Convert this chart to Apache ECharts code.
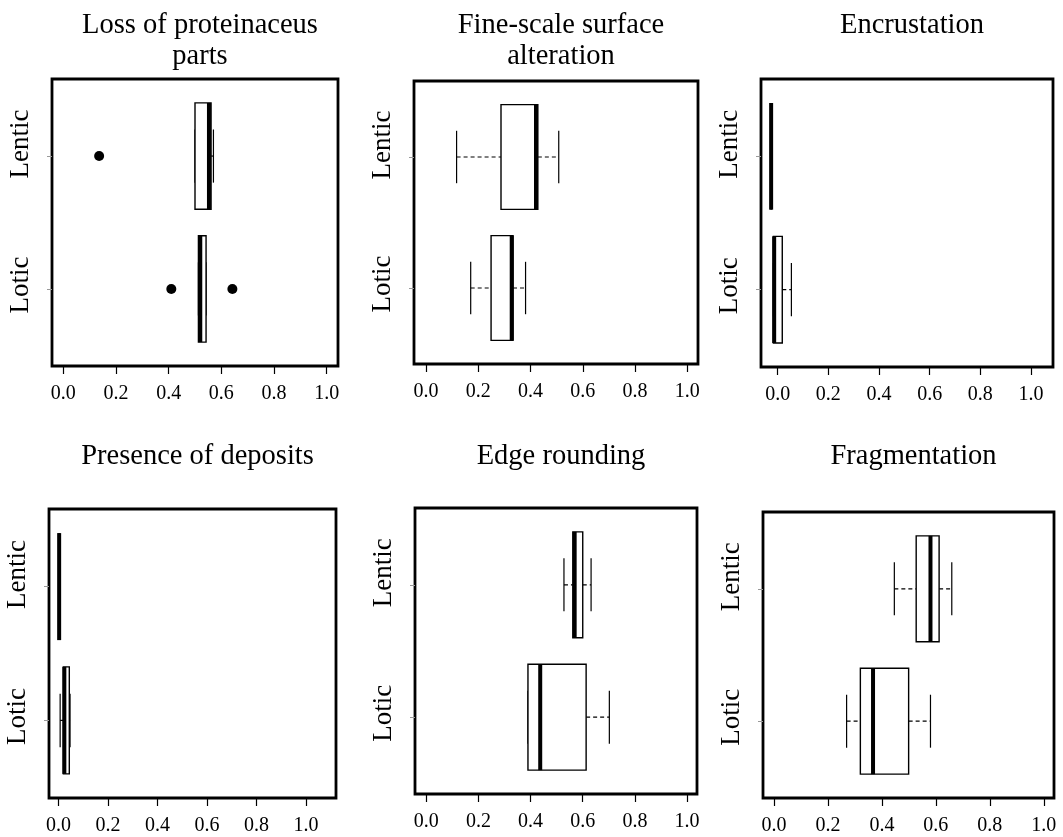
<!DOCTYPE html>
<html>
<head>
<meta charset="utf-8">
<script src="https://cdn.jsdelivr.net/npm/echarts@6/dist/echarts.min.js"></script>
<style>
  html, body { margin: 0; background: #fff }
  #chart { width: 1063px; height: 837px }
</style>
</head>
<body>
<div id="chart"></div>
<script>
var groups = ['Lotic', 'Lentic']
var titles = [
  'Loss of proteinaceus\nparts',
  'Fine-scale surface\nalteration',
  'Encrustation',
  'Presence of deposits',
  'Edge rounding',
  'Fragmentation'
]
var xTicks = [0, 0.2, 0.4, 0.6, 0.8, 1.0]

// [lower whisker, Q1, median, Q3, upper whisker]
var lenticBoxes = [
  [0.500, 0.500, 0.553, 0.561, 0.570],
  [0.117, 0.287, 0.421, 0.428, 0.508],
  [-0.026, -0.026, -0.026, -0.026, -0.026],
  [0.003, 0.003, 0.003, 0.003, 0.003],
  [0.528, 0.562, 0.569, 0.600, 0.632],
  [0.446, 0.527, 0.580, 0.612, 0.659]
]
var loticBoxes = [
  [0.513, 0.513, 0.520, 0.542, 0.542],
  [0.171, 0.249, 0.328, 0.333, 0.381],
  [-0.017, -0.017, -0.014, 0.018, 0.054],
  [0.007, 0.020, 0.024, 0.044, 0.047],
  [0.390, 0.390, 0.437, 0.613, 0.702],
  [0.269, 0.320, 0.367, 0.499, 0.580]
]
var lenticOutliers = [[0.136], [], [], [], [], []]
var loticOutliers = [[0.410, 0.642], [], [], [], [], []]

// panel frames and x ranges (R pads each axis a little)
var layout = [
  { left: 52, top: 79, width: 286, height: 287, min: -0.043, max: 1.043 },
  { left: 414, top: 81, width: 284, height: 283, min: -0.046, max: 1.041 },
  { left: 761, top: 79, width: 292, height: 288, min: -0.066, max: 1.087 },
  { left: 49, top: 509, width: 287, height: 289, min: -0.038, max: 1.121 },
  { left: 415, top: 508, width: 282, height: 286, min: -0.043, max: 1.038 },
  { left: 763, top: 512, width: 291, height: 286, min: -0.041, max: 1.038 }
]

var serif = 'Liberation Serif'

function renderBox (params, api) {
  var y = api.value(0)
  var px = [1, 2, 3, 4, 5].map(function (k) {
    return api.coord([api.value(k), y])[0]
  })
  var yMid = api.coord([0, y])[1]
  var yTop = api.coord([0, y + 0.4])[1]
  var yBot = api.coord([0, y - 0.4])[1]
  var capTop = api.coord([0, y + 0.2])[1]
  var capBot = api.coord([0, y - 0.2])[1]
  var thin = { stroke: '#000', lineWidth: 1.2 }
  var dashed = { stroke: '#000', lineWidth: 1.2, lineDash: [4, 3] }
  return {
    type: 'group',
    children: [
      { type: 'line', shape: { x1: px[0], y1: yMid, x2: px[1], y2: yMid }, style: dashed },
      { type: 'line', shape: { x1: px[3], y1: yMid, x2: px[4], y2: yMid }, style: dashed },
      { type: 'line', shape: { x1: px[0], y1: capTop, x2: px[0], y2: capBot }, style: thin },
      { type: 'line', shape: { x1: px[4], y1: capTop, x2: px[4], y2: capBot }, style: thin },
      {
        type: 'rect',
        shape: { x: px[1], y: yTop, width: px[3] - px[1], height: yBot - yTop },
        style: { fill: '#fff', stroke: '#000', lineWidth: 1.4 }
      },
      { type: 'line', shape: { x1: px[2], y1: yTop, x2: px[2], y2: yBot }, style: { stroke: '#000', lineWidth: 4 } }
    ]
  }
}

var option = {
  animation: false,
  backgroundColor: '#fff',
  title: [],
  grid: [],
  xAxis: [],
  yAxis: [],
  series: []
}

layout.forEach(function (p, i) {
  option.title.push({
    text: titles[i],
    left: p.left + p.width / 2,
    top: i < 3 ? 5 : 436,
    textAlign: 'center',
    textStyle: { fontFamily: serif, fontSize: 28.5, fontWeight: 'normal', color: '#000', lineHeight: 31 }
  })
  option.grid.push({
    left: p.left, top: p.top, width: p.width, height: p.height,
    show: true, borderColor: '#000', borderWidth: 2.8, backgroundColor: 'transparent'
  })
  option.xAxis.push({
    type: 'value', gridIndex: i, min: p.min, max: p.max,
    axisLine: { show: false, onZero: false },
    splitLine: { show: false },
    axisTick: { show: true, inside: false, customValues: xTicks, length: 8, lineStyle: { color: '#000', width: 1.2 } },
    axisLabel: {
      customValues: xTicks, margin: 18,
      fontFamily: serif, fontSize: 20, color: '#000',
      formatter: function (v) { return v.toFixed(1) }
    }
  })
  option.yAxis.push({
    type: 'value', gridIndex: i, min: 0.42, max: 2.58,
    axisLine: { show: false, onZero: false },
    splitLine: { show: false },
    axisTick: { show: true, inside: false, customValues: [1, 2], length: 5, lineStyle: { color: '#999', width: 1 } },
    axisLabel: {
      customValues: [1, 2], rotate: 90, margin: 18,
      fontFamily: serif, fontSize: 27, color: '#000',
      formatter: function (v) {
        var k = Math.round(v)
        return '{' + (k === 2 ? 'hi' : 'lo') + '|' + groups[k - 1] + '}'
      },
      rich: {
        hi: { fontFamily: serif, fontSize: 27, color: '#000', padding: [0, 0, 0, 24] },
        lo: { fontFamily: serif, fontSize: 27, color: '#000', padding: [0, 0, 0, 8] }
      }
    }
  })
  option.series.push({
    type: 'custom',
    xAxisIndex: i, yAxisIndex: i,
    renderItem: renderBox,
    encode: { x: [1, 2, 3, 4, 5], y: 0 },
    data: [[2].concat(lenticBoxes[i]), [1].concat(loticBoxes[i])]
  })
  var pts = lenticOutliers[i].map(function (v) { return [v, 2] })
    .concat(loticOutliers[i].map(function (v) { return [v, 1] }))
  option.series.push({
    type: 'scatter',
    xAxisIndex: i, yAxisIndex: i,
    symbol: 'circle', symbolSize: 10,
    itemStyle: { color: '#000', opacity: 1 },
    data: pts
  })
})

var chart = echarts.init(document.getElementById('chart'))
chart.setOption(option)
</script>
</body>
</html>
